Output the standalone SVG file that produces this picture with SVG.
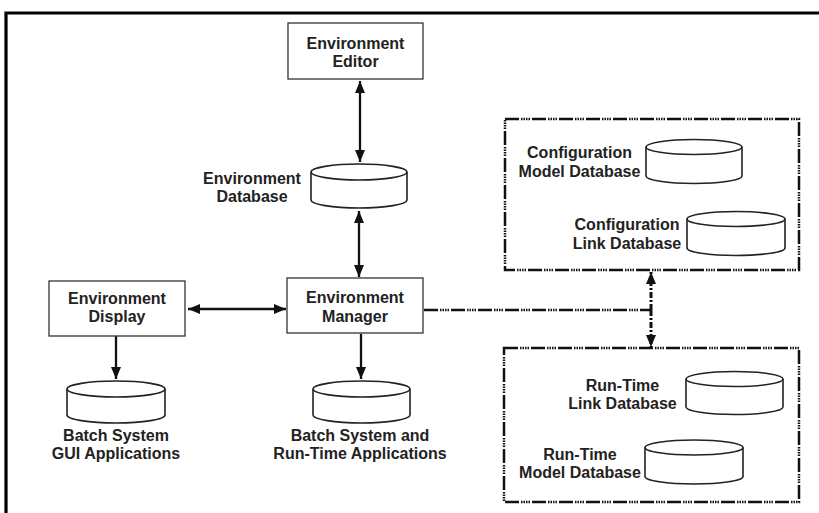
<svg xmlns="http://www.w3.org/2000/svg" width="819" height="513" viewBox="0 0 819 513">
<defs>
<marker id="ah" viewBox="0 0 12 10" refX="12" refY="5" markerWidth="12" markerHeight="10" markerUnits="userSpaceOnUse" orient="auto-start-reverse">
<path d="M0,0 L12,5 L0,10 z" fill="#111"/>
</marker>
<style>
.box{fill:#fff;stroke:#333;stroke-width:1.3}
.cyl{fill:#fff;stroke:#222;stroke-width:1.6}
.t{font-family:"Liberation Sans",Arial,sans-serif;font-weight:bold;font-size:16px;fill:#222;text-anchor:middle}
.c{fill:none;stroke:#111;stroke-width:2.3}
.grp{fill:none;stroke:#111;stroke-width:2.5;stroke-dasharray:14 2 1.5 1 1.5 1 1.5 1 1.5 2}
.dl{fill:none;stroke:#111;stroke-width:2.5;stroke-dasharray:14 2 1.5 1 1.5 1 1.5 1 1.5 2}
.dv{fill:none;stroke:#111;stroke-width:3;stroke-dasharray:6 2 2 2}
</style>
</defs>
<rect width="819" height="513" fill="#fff"/>
<path d="M6,513 V13 H819" fill="none" stroke="#000" stroke-width="3.2"/>

<g id="group-config">
<rect class="grp" x="505" y="119" width="294" height="151"/>
</g>
<g id="group-runtime">
<rect class="grp" x="504" y="348" width="295" height="154"/>
</g>

<g id="connectors">
<line class="c" x1="360" y1="81" x2="360" y2="162" marker-start="url(#ah)" marker-end="url(#ah)"/>
<line class="c" x1="359" y1="211" x2="359" y2="277" marker-start="url(#ah)" marker-end="url(#ah)"/>
<line class="c" x1="188" y1="309" x2="286" y2="309" marker-start="url(#ah)" marker-end="url(#ah)"/>
<line class="c" x1="116" y1="336" x2="116" y2="379" marker-end="url(#ah)"/>
<line class="c" x1="361" y1="334" x2="361" y2="379" marker-end="url(#ah)"/>
<path class="dl" d="M424,310 H651"/>
<path class="dv" d="M651,310 V272" marker-end="url(#ah)"/>
<path class="dv" d="M651,310 V347" marker-end="url(#ah)"/>
</g>

<g id="env-editor">
<rect class="box" x="288" y="23" width="135" height="56"/>
<text class="t" x="355.5" y="49">Environment</text>
<text class="t" x="355.5" y="67">Editor</text>
</g>

<g id="env-database">
<path class="cyl" d="M311,172 V200 A48,8 0 0 0 407,200 V172"/>
<ellipse class="cyl" cx="359" cy="172" rx="48" ry="8"/>
<text class="t" x="252" y="184">Environment</text>
<text class="t" x="252" y="202">Database</text>
</g>

<g id="env-manager">
<rect class="box" x="287" y="278" width="136" height="55"/>
<text class="t" x="355" y="303">Environment</text>
<text class="t" x="355" y="321.5">Manager</text>
</g>

<g id="env-display">
<rect class="box" x="49" y="281" width="136" height="55"/>
<text class="t" x="117" y="304">Environment</text>
<text class="t" x="117" y="322">Display</text>
</g>

<g id="batch-gui">
<path class="cyl" d="M67,389 V415 A49,8 0 0 0 165,415 V389"/>
<ellipse class="cyl" cx="116" cy="389" rx="49" ry="8"/>
<text class="t" x="116" y="441">Batch System</text>
<text class="t" x="116" y="459">GUI Applications</text>
</g>

<g id="batch-runtime">
<path class="cyl" d="M313,389 V415 A48.5,8 0 0 0 410,415 V389"/>
<ellipse class="cyl" cx="361.5" cy="389" rx="48.5" ry="8"/>
<text class="t" x="360" y="441">Batch System and</text>
<text class="t" x="360" y="459">Run-Time Applications</text>
</g>

<g id="config-model-db">
<path class="cyl" d="M646,147 V176 A48,7.5 0 0 0 742,176 V147"/>
<ellipse class="cyl" cx="694" cy="147" rx="48" ry="7.5"/>
<text class="t" x="579.5" y="157.5">Configuration</text>
<text class="t" x="579.5" y="176.5">Model Database</text>
</g>

<g id="config-link-db">
<path class="cyl" d="M687,219 V248 A49,7.5 0 0 0 785,248 V219"/>
<ellipse class="cyl" cx="736" cy="219" rx="49" ry="7.5"/>
<text class="t" x="627" y="229.5">Configuration</text>
<text class="t" x="627" y="248.5">Link Database</text>
</g>

<g id="runtime-link-db">
<path class="cyl" d="M686,379 V407 A48.5,7.5 0 0 0 783,407 V379"/>
<ellipse class="cyl" cx="734.5" cy="379" rx="48.5" ry="7.5"/>
<text class="t" x="622.5" y="390.5">Run-Time</text>
<text class="t" x="622.5" y="408.5">Link Database</text>
</g>

<g id="runtime-model-db">
<path class="cyl" d="M645,447.5 V476.5 A49,7.5 0 0 0 743,476.5 V447.5"/>
<ellipse class="cyl" cx="694" cy="447.5" rx="49" ry="7.5"/>
<text class="t" x="580" y="460">Run-Time</text>
<text class="t" x="580" y="477.5">Model Database</text>
</g>
</svg>
